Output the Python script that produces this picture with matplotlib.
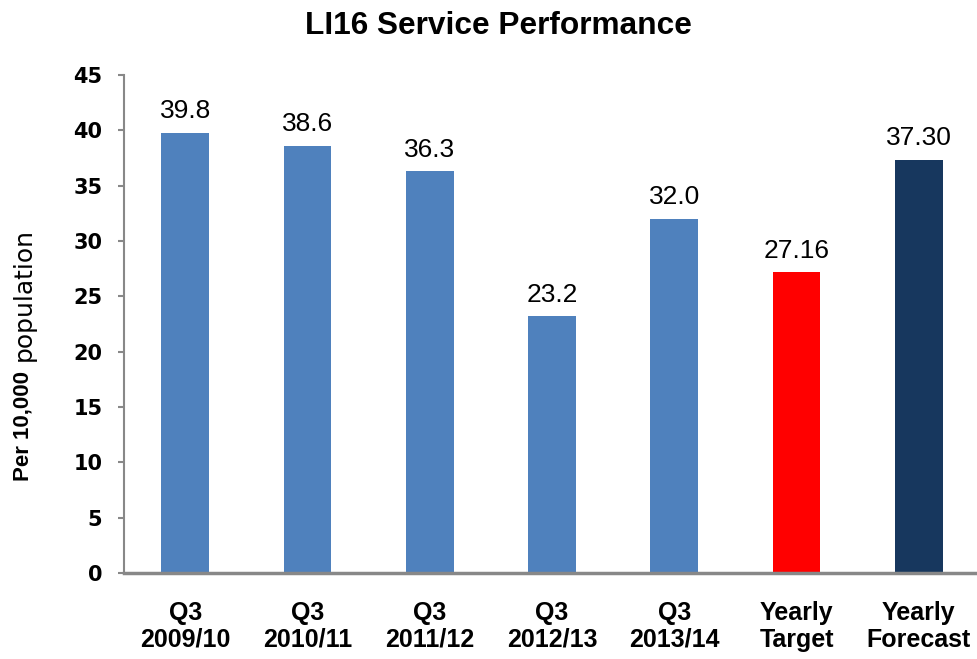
import matplotlib
matplotlib.use("Agg")
import matplotlib.pyplot as plt

plt.rcParams['font.family'] = ['Liberation Sans', 'DejaVu Sans']

categories = ["Q3\n2009/10", "Q3\n2010/11", "Q3\n2011/12", "Q3\n2012/13",
              "Q3\n2013/14", "Yearly\nTarget", "Yearly\nForecast"]
values = [39.8, 38.6, 36.3, 23.2, 32.0, 27.16, 37.30]
value_labels = ["39.8", "38.6", "36.3", "23.2", "32.0", "27.16", "37.30"]
colors = ["#4F81BD"] * 5 + ["#FF0000", "#17375E"]
yticks = [0, 5, 10, 15, 20, 25, 30, 35, 40, 45]

fig = plt.figure(figsize=(9.77, 6.59), dpi=100)
# plot area runs a little past the right edge, as in the original
ax = fig.add_axes([124 / 977, 86 / 659, 856 / 977, 498 / 659])

x = list(range(len(categories)))
bars = ax.bar(x, values, width=0.39, color=colors, zorder=2)

for b, lab in zip(bars, value_labels):
    ax.annotate(lab, (b.get_x() + b.get_width() / 2, b.get_height()),
                xytext=(0, 7), textcoords="offset points",
                ha="center", va="bottom", fontsize=19)

ax.set_xlim(-0.5, 6.5)
ax.set_ylim(0, 45)
ax.set_yticks(yticks)
ax.set_yticklabels([str(t) for t in yticks], fontsize=15, fontweight="bold",
                   family=["DejaVu Sans"])
ax.set_xticks(x)
ax.set_xticklabels(categories, fontsize=18, fontweight="bold", linespacing=1.15)
ax.tick_params(axis="x", length=0, pad=20)
ax.tick_params(axis="y", length=4.5, color="#888888", width=1.5, pad=11)

for side in ["top", "right"]:
    ax.spines[side].set_visible(False)
ax.spines["left"].set_color("#888888")
ax.spines["bottom"].set_color("#888888")
ax.spines["left"].set_linewidth(1.5)
ax.spines["bottom"].set_linewidth(2.5)

fig.text(0.51, 1 - 26 / 659, "LI16 Service Performance", ha="center",
         va="center", fontsize=22.8, fontweight="bold")

# y label: bold part and plain part one after the other
fig.text(23 / 977, 1 - 371 / 659, "Per 10,000", rotation=90, ha="center",
         va="top", fontsize=16, fontweight="bold")
fig.text(24 / 977, 1 - 361 / 659, "population", rotation=90, ha="center",
         va="bottom", fontsize=18, family=["DejaVu Sans"])

fig.savefig("out.png", dpi=100)
